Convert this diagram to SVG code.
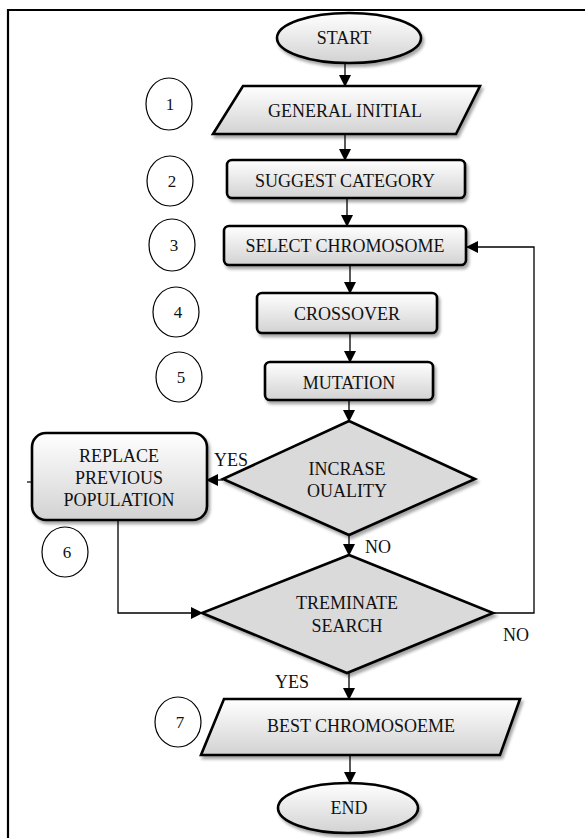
<svg xmlns="http://www.w3.org/2000/svg" width="585" height="838" viewBox="0 0 585 838">
<defs>
<linearGradient id="g" x1="0" y1="0" x2="0" y2="1">
<stop offset="0" stop-color="#ffffff"/>
<stop offset="1" stop-color="#d2d2d2"/>
</linearGradient>
<filter id="sh" x="-10%" y="-10%" width="125%" height="140%">
<feDropShadow dx="2" dy="3" stdDeviation="1.5" flood-color="#000" flood-opacity="0.35"/>
</filter>
<marker id="ah" markerWidth="12" markerHeight="12" refX="11" refY="6" orient="auto" markerUnits="userSpaceOnUse">
<path d="M0,0 L12,6 L0,12 Z" fill="#000"/>
</marker>
</defs>
<style>
.s{fill:url(#g);stroke:#000;stroke-width:2.6;filter:url(#sh)}
.d{fill:#dadada;stroke:#000;stroke-width:2.6;filter:url(#sh)}
.c{fill:#fff;stroke:#000;stroke-width:1.2}
.t{font-family:"Liberation Serif","Times New Roman",serif;font-size:18px;fill:#111;text-anchor:middle}
.n{font-family:"Liberation Serif","Times New Roman",serif;font-size:17px;fill:#111;text-anchor:middle}
.l{fill:none;stroke:#000;stroke-width:1.2}
.a{fill:none;stroke:#000;stroke-width:1.3;marker-end:url(#ah)}
</style>
<rect x="0" y="0" width="585" height="838" fill="#fff"/>
<path d="M8,838 L8,10 L585,10" fill="none" stroke="#000" stroke-width="2.2"/>

<g id="connectors">
<line class="a" x1="345" y1="63" x2="345" y2="86"/>
<line class="a" x1="345" y1="134" x2="345" y2="160"/>
<line class="a" x1="347" y1="198" x2="347" y2="226"/>
<line class="a" x1="350" y1="265" x2="350" y2="293"/>
<line class="a" x1="350" y1="333" x2="350" y2="362"/>
<line class="a" x1="349" y1="400" x2="349" y2="421"/>
<line class="a" x1="223" y1="480" x2="207" y2="480"/>
<line class="a" x1="349" y1="535" x2="349" y2="555"/>
<path class="a" d="M118,520 L118,613 L202,613"/>
<path class="a" d="M493,613 L534,613 L534,247 L467,247"/>
<line class="a" x1="349" y1="673" x2="349" y2="699"/>
<line class="a" x1="350" y1="755" x2="350" y2="783"/>
<line class="l" x1="27" y1="482" x2="32" y2="482"/>
<text class="t" x="231" y="466">YES</text>
<text class="t" x="378" y="553">NO</text>
<text class="t" x="516" y="641">NO</text>
<text class="t" x="292" y="688">YES</text>
</g>

<g id="start">
<ellipse class="s" cx="349" cy="38" rx="72" ry="25"/>
<text class="t" x="344" y="44">START</text>
</g>
<g id="n1">
<ellipse class="c" cx="169" cy="104" rx="23" ry="26"/>
<text class="n" x="170" y="110">1</text>
</g>
<g id="general-initial">
<polygon class="s" points="243,86 480,86 456,134 213,134"/>
<text class="t" x="345" y="117">GENERAL INITIAL</text>
</g>
<g id="n2">
<ellipse class="c" cx="170" cy="181" rx="23" ry="25"/>
<text class="n" x="172" y="187">2</text>
</g>
<g id="suggest-category">
<rect class="s" x="227" y="160" width="238" height="38" rx="5"/>
<text class="t" x="345" y="187">SUGGEST CATEGORY</text>
</g>
<g id="n3">
<ellipse class="c" cx="172" cy="245" rx="23" ry="26"/>
<text class="n" x="174" y="251">3</text>
</g>
<g id="select-chromosome">
<rect class="s" x="224" y="226" width="242" height="39" rx="5"/>
<text class="t" x="345" y="252">SELECT CHROMOSOME</text>
</g>
<g id="n4">
<ellipse class="c" cx="176" cy="312" rx="23" ry="25"/>
<text class="n" x="178" y="318">4</text>
</g>
<g id="crossover">
<rect class="s" x="257" y="293" width="180" height="40" rx="5"/>
<text class="t" x="347" y="320">CROSSOVER</text>
</g>
<g id="n5">
<ellipse class="c" cx="179" cy="377" rx="23" ry="25"/>
<text class="n" x="181" y="383">5</text>
</g>
<g id="mutation">
<rect class="s" x="265" y="362" width="168" height="38" rx="5"/>
<text class="t" x="349" y="389">MUTATION</text>
</g>
<g id="incrase-quality">
<polygon class="d" points="349,421 475,479 349,535 223,479"/>
<text class="t" x="347" y="475">INCRASE</text>
<text class="t" x="347" y="497">OUALITY</text>
</g>
<g id="replace">
<rect class="s" x="32" y="433" width="175" height="87" rx="14"/>
<text class="t" x="119" y="462">REPLACE</text>
<text class="t" x="119" y="484">PREVIOUS</text>
<text class="t" x="119" y="506">POPULATION</text>
</g>
<g id="n6">
<ellipse class="c" cx="65" cy="552" rx="23" ry="25"/>
<text class="n" x="67" y="558">6</text>
</g>
<g id="terminate-search">
<polygon class="d" points="349,555 493,613 347,673 202,613"/>
<text class="t" x="347" y="609">TREMINATE</text>
<text class="t" x="347" y="632">SEARCH</text>
</g>
<g id="n7">
<ellipse class="c" cx="178" cy="722" rx="23" ry="25"/>
<text class="n" x="180" y="728">7</text>
</g>
<g id="best-chromosome">
<polygon class="s" points="224,699 520,699 500,755 201,755"/>
<text class="t" x="361" y="732">BEST CHROMOSOEME</text>
</g>
<g id="end">
<ellipse class="s" cx="348" cy="808" rx="70" ry="25"/>
<text class="t" x="349" y="814">END</text>
</g>
</svg>
